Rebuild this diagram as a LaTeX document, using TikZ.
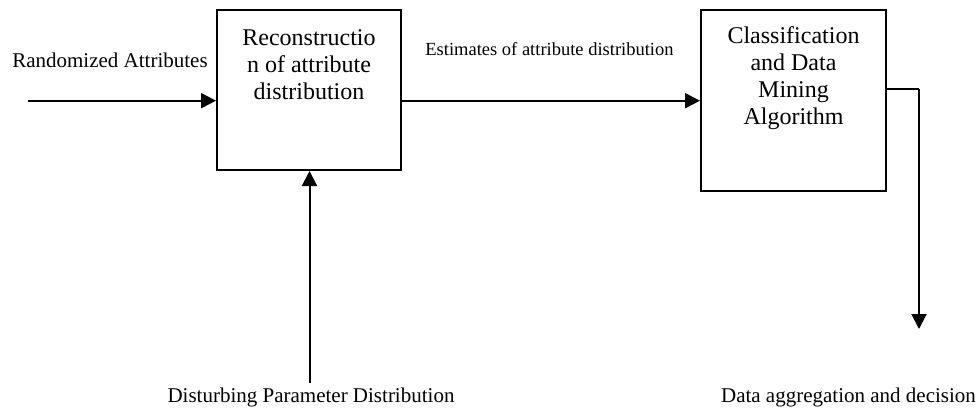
\documentclass[tikz,border=0pt]{standalone}
\usepackage{fontspec}
\setmainfont{Liberation Serif}
\usetikzlibrary{arrows.meta}

\tikzset{
  blockbox/.style={draw, line width=2pt, rectangle, inner sep=0pt},
  blocktext/.style={anchor=north, inner sep=0pt, align=center,
    font=\fontsize{24}{27}\selectfont},
  flowlabel/.style={anchor=base, inner sep=0pt, font=\fontsize{21}{24}\selectfont},
  smalllabel/.style={anchor=base, inner sep=0pt, font=\fontsize{18.5}{21}\selectfont},
  flow/.style={line width=2pt, -{Triangle[length=15pt,width=15pt]}},
  wire/.style={line width=2pt}
}

\begin{document}
\begin{tikzpicture}[x=1pt, y=-1pt]
  \useasboundingbox (0,0) rectangle (980,410);

  % processing blocks
  \node[blockbox, minimum width=184pt, minimum height=160pt] (recon) at (309,90) {};
  \node[blocktext] (recontxt) at (309,29) {Reconstructio\\n of attribute\\distribution};

  \node[blockbox, minimum width=185pt, minimum height=181pt] (mining) at (793.5,100.5) {};
  \node[blocktext] (miningtxt) at (793.5,26.5) {Classification\\and Data\\Mining\\Algorithm};

  % free ends of the connectors
  \coordinate (inputstart) at (28,100.7);
  \coordinate (paramstart) at (309.5,383);
  \coordinate (outbend) at (919,89);
  \coordinate (outend) at (919,329);

  % labels
  \node[flowlabel] (randlbl) at (110,67) {Randomized Attributes};
  \node[smalllabel] (estlbl) at (549.5,55) {Estimates of attribute distribution};
  \node[flowlabel] (distlbl) at (311,402.5) {Disturbing Parameter Distribution};
  \node[flowlabel] (decilbl) at (848.5,402.5) {Data aggregation and decision};

  % connectors
  \draw[flow] (inputstart) -- (inputstart -| recon.west);
  \draw[flow] (recon.east |- inputstart) -- (mining.west |- inputstart);
  \draw[flow] (paramstart) -- (paramstart |- recon.south);
  \draw[wire] (mining.east |- outbend) -- (outbend);
  \draw[flow] (outbend) -- (outend);
\end{tikzpicture}
\end{document}
